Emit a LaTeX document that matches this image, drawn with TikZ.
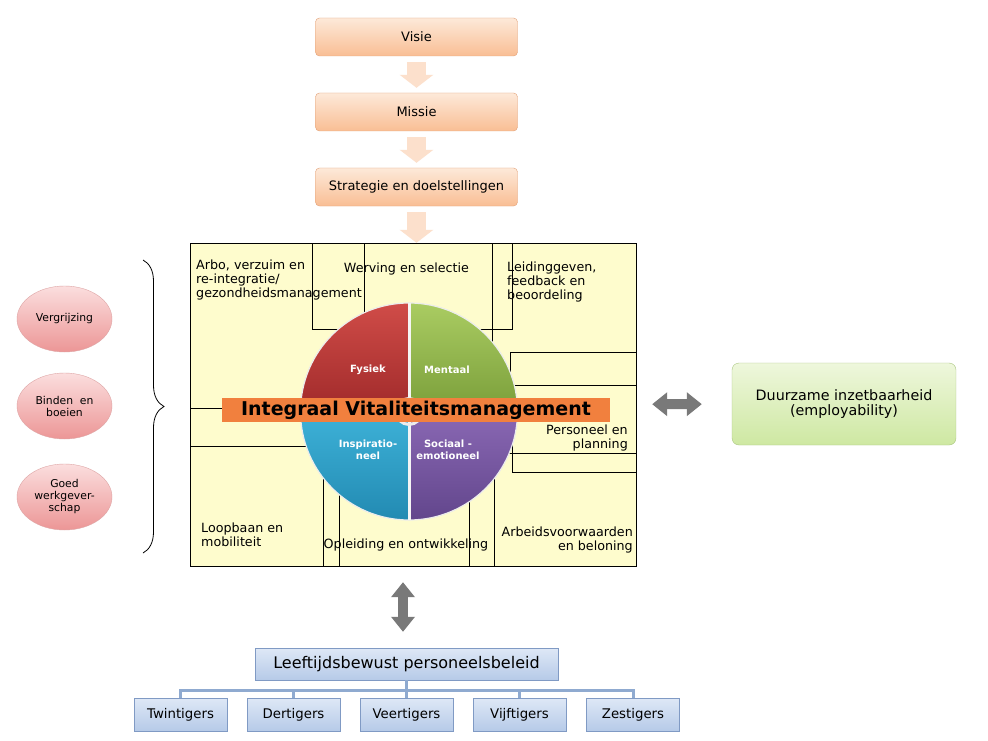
\documentclass[tikz,border=0pt]{standalone}
\usepackage{fontspec}
\setmainfont{DejaVu Sans}
\usepackage{tikz}
\usetikzlibrary{arrows.meta,positioning,shapes.geometric,decorations.pathreplacing}
\definecolor{peachtop}{RGB}{253,233,217}
\definecolor{peachbot}{RGB}{249,190,148}
\definecolor{peachline}{RGB}{226,160,118}
\definecolor{peacharrow}{RGB}{252,224,204}
\definecolor{pinktop}{RGB}{251,222,222}
\definecolor{pinkbot}{RGB}{236,150,150}
\definecolor{pinkline}{RGB}{222,165,165}
\definecolor{gridyellow}{RGB}{254,252,205}
\definecolor{banner}{RGB}{241,128,62}
\definecolor{greentop}{RGB}{238,247,220}
\definecolor{greenbot}{RGB}{206,232,162}
\definecolor{greenline}{RGB}{170,198,128}
\definecolor{bluetop}{RGB}{222,232,246}
\definecolor{bluebot}{RGB}{182,202,232}
\definecolor{blueline}{RGB}{128,154,196}
\definecolor{orgline}{RGB}{143,170,208}
\definecolor{fysiektop}{RGB}{208,76,72}
\definecolor{fysiekbot}{RGB}{160,42,42}
\definecolor{mentaaltop}{RGB}{170,204,98}
\definecolor{mentaalbot}{RGB}{122,158,58}
\definecolor{inspitop}{RGB}{62,178,216}
\definecolor{inspibot}{RGB}{34,138,178}
\definecolor{sociaaltop}{RGB}{138,104,180}
\definecolor{sociaalbot}{RGB}{98,70,140}
\tikzstyle{topbox} = [draw=peachline,top color=peachtop,bottom color=peachbot,rounded corners=4pt,minimum width=202pt,minimum height=38pt,font=\fontsize{13}{15}\selectfont]
\tikzstyle{downarrow} = [peacharrow,line width=19pt,-{Triangle[width=33pt,length=13pt]}]
\tikzstyle{cause} = [ellipse,draw=pinkline,top color=pinktop,bottom color=pinkbot,minimum width=95pt,minimum height=66pt,inner sep=0pt,align=center,font=\fontsize{10.8}{12}\selectfont]
\tikzstyle{gridtext} = [inner sep=0pt,font=\fontsize{12.7}{14}\selectfont]
\tikzstyle{quarter} = [white,inner sep=0pt,align=center,font=\fontsize{10}{11.5}\selectfont\bfseries]
\tikzstyle{bigarrow} = [gray!95!black,line width=10pt,{Triangle[width=23pt,length=15pt]}-{Triangle[width=23pt,length=15pt]}]
\tikzstyle{agebox} = [draw=blueline,top color=bluetop,bottom color=bluebot,minimum width=93pt,minimum height=33pt,font=\fontsize{13.3}{15}\selectfont]
\tikzstyle{orglink} = [orgline,line width=3pt]

\begin{document}
\begin{tikzpicture}[x=1pt,y=-1pt]
\useasboundingbox[fill=white] (0,0) rectangle (988,741);
%%% Draw top chain
\node[topbox] at (416.5,37) (visie) {Visie};
\node[topbox] at (416.5,112) (missie) {Missie};
\node[topbox] at (416.5,187) (strategie) {Strategie en doelstellingen};
\draw[downarrow,shorten <=6pt,shorten >=5pt] (visie) -- (missie);
\draw[downarrow,shorten <=6pt,shorten >=5pt] (missie) -- (strategie);

%%% Draw grid of themes
\node[draw,fill=gridyellow,minimum width=445.5pt,minimum height=323pt,inner sep=0pt] at (413.25,404.5) (grid) {};
\draw[downarrow,shorten <=6pt] (strategie) -- (strategie |- grid.north);
% Draw separators (the wheel covers their inner ends)
\draw (312,243) -- (312,329) -- (345,329);
\draw (364,243) -- (364,330);
\draw (492,243) -- (492,350);
\draw (512,243) -- (512,329) -- (470,329);
\draw (636,352.5) -- (510,352.5) -- (510,380);
\draw (636,385) -- (500,385);
\draw (190.5,408) -- (240,408);
\draw (190.5,446) -- (320,446);
\draw (636,453) -- (500,453);
\draw (512,440) -- (512,472) -- (636,472);
\draw (323,566) -- (323,470);
\draw (339,566) -- (339,490);
\draw (469,566) -- (469,490);
\draw (494,566) -- (494,470);
% Draw theme texts
\node[gridtext,anchor=north west,align=left] at (196,260) (arbo) {Arbo, verzuim en\\re-integratie/\\gezondheidsmanagement};
\node[gridtext] at (406.5,269) (werving) {Werving en selectie};
\node[gridtext,anchor=north west,align=left] at (507,262) (leiding) {Leidinggeven,\\feedback en\\beoordeling};
\node[gridtext,anchor=north east,align=right] at (628,425) (personeel) {Personeel en\\planning};
\node[gridtext,anchor=north east,align=right] at (633,527) (arbeid) {Arbeidsvoorwaarden\\en beloning};
\node[gridtext] at (406,545) (opleiding) {Opleiding en ontwikkeling};
\node[gridtext,anchor=north west,align=left] at (201,523) (loopbaan) {Loopbaan en\\mobiliteit};

%%% Draw wheel
\coordinate (hub) at (409,411.5);
\foreach \a/\c in {180/fysiek,270/mentaal,0/sociaal,90/inspi} {
    \shade[top color=\c top,bottom color=\c bot] (hub) -- ++(\a:108.5) arc[start angle=\a,delta angle=90,radius=108.5] -- cycle;
}
\draw[white!85!gray,line width=1.2pt] (hub) circle[radius=108.5];
\draw[white!92!gray,line width=3pt] (409,303) -- (409,520);
\draw[white!92!gray,line width=3pt] (300.5,411.5) -- (517.5,411.5);
\draw[white!85!gray,line width=3pt] (hub) circle[radius=13];
\node[quarter] at (368,370) (fysiek) {Fysiek};
\node[quarter] at (447,370) (mentaal) {Mentaal};
\node[quarter] at (368,450) (inspiratie) {Inspiratio-\\neel};
\node[quarter] at (448,450) (sociaal) {Sociaal -\\emotioneel};
\node[fill=banner,minimum width=388pt,minimum height=24pt,inner sep=0pt,font=\fontsize{19}{22}\selectfont\bfseries] at (416,410) (ivm) {Integraal Vitaliteitsmanagement};

%%% Draw causes
\node[cause] at (64.5,319) (vergrijzing) {Vergrijzing};
\node[cause] at (64.5,406) (binden) {Binden\ \ en\\boeien};
\node[cause] at (64.5,497) (goed) {Goed\\werkgever-\\schap};
\draw[line width=0.8pt,decorate,decoration={brace,amplitude=21pt}] (143,260) -- (143,553);

%%% Draw result
\node[draw=greenline,top color=greentop,bottom color=greenbot,rounded corners=7pt,minimum width=224pt,minimum height=82pt,align=center,font=\fontsize{14.3}{15}\selectfont] at (844,404) (duurzaam) {Duurzame inzetbaarheid\\(employability)};
\draw[bigarrow,shorten <=16pt,shorten >=30pt] (grid) -- (duurzaam);

%%% Draw age groups
\node[draw=blueline,top color=bluetop,bottom color=bluebot,minimum width=303pt,minimum height=32pt,font=\fontsize{16}{18}\selectfont] at (406.5,664) (leeftijd) {Leeftijdsbewust personeelsbeleid};
\draw[bigarrow,shorten <=16pt,shorten >=16pt] ([xshift=-3.5pt]leeftijd.north) -- ([xshift=-3.5pt]leeftijd.north |- grid.south);
\foreach \name/\x in {Twintigers/180.5,Dertigers/293.5,Veertigers/406.5,Vijftigers/519.5,Zestigers/633} {
    \draw[orglink] (leeftijd.south) -- ++(0,10) -| (\x,698);
    \node[agebox] at (\x,714.5) (\name) {\name};
}
\end{tikzpicture}
\end{document}
